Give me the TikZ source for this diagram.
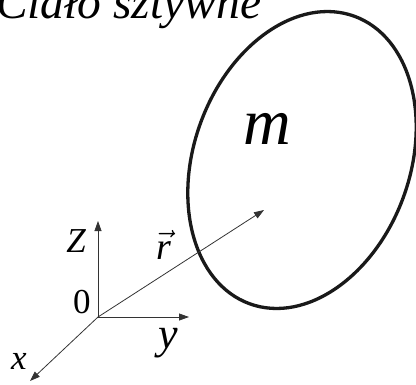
\RequirePackage{fix-cm}
\documentclass[tikz,border=0pt]{standalone}
\usepackage{fontspec}
\setmainfont{Liberation Serif}
\usetikzlibrary{arrows.meta, positioning, calc}
\tikzset{every node/.append style={inner sep=0pt, outer sep=0pt}}

\begin{document}
\begin{tikzpicture}[x=1pt, y=-1pt,
    ax/.style={draw=black!80, line width=0.8pt, -{Triangle[length=10pt, width=7pt]}},
    body/.style={draw=black!90, line width=3.3pt},
    lbl/.style={anchor=base, font=\itshape\fontsize{#1}{#1}\selectfont}]
\useasboundingbox (0,0) rectangle (416,384);
\node[lbl=47.5, anchor=base west] (title) at (-4,18) {Ciało sztywne};
\draw[body] (302,160) ellipse[x radius=108, y radius=153, rotate=-20];
\node[lbl=66] (mass) at (267,144) {m};
\coordinate (O) at (98,317);
\coordinate (zt) at (98,221);
\coordinate (yt) at (189,317);
\coordinate (xt) at (30,381);
\coordinate (rt) at (264,210);
\draw[ax] (O) -- (zt);
\draw[ax] (O) -- (yt);
\draw[ax] (O) -- (xt);
\draw[ax] (O) -- (rt);
\node[lbl=35] (zl) at (76,252) {Z};
\node[anchor=base, font=\fontsize{35}{35}\selectfont] (ol) at (82,313) {0};
\node[lbl=44] (yl) at (168,348) {y};
\node[lbl=35] (xl) at (19,369) {x};
\node[lbl=38] (rl) at (164,259) {$\vec{\textit{r}}$};
\end{tikzpicture}
\end{document}
